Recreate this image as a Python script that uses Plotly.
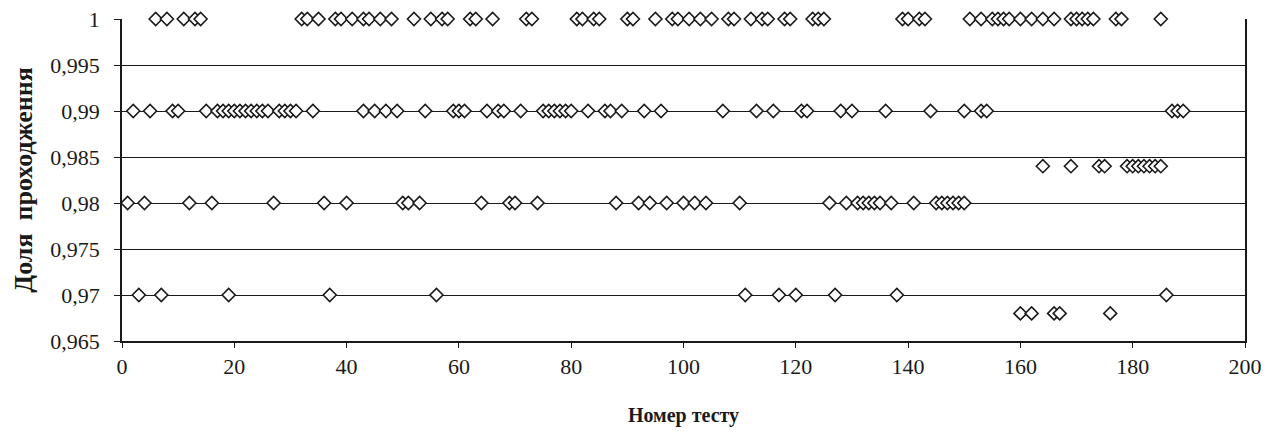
import plotly.graph_objects as go

# ---- data (test number, pass share) ----
x_100 = [6, 8, 11, 13, 14, 32, 33, 35, 38, 39, 41, 43, 44, 46, 48, 52, 55, 57, 58, 62, 63, 66,
         72, 73, 81, 82, 84, 85, 90, 91, 95, 98, 99, 101, 103, 105, 108, 109, 112, 114, 115, 118,
         119, 123, 124, 125, 139, 140, 142, 143, 151, 153, 155, 156, 157, 158, 160, 162, 164, 166,
         169, 170, 171, 172, 173, 177, 178, 185]
x_099 = [2, 5, 9, 10, 15, 17, 18, 19, 20, 21, 22, 23, 24, 25, 26, 28, 29, 30, 31, 34, 43, 45, 47,
         49, 54, 59, 60, 61, 65, 67, 68, 71, 75, 76, 77, 78, 79, 80, 83, 86, 87, 89, 93, 96, 107,
         113, 116, 121, 122, 128, 130, 136, 144, 150, 153, 154, 187, 188, 189]
x_0984 = [164, 169, 174, 175, 179, 180, 181, 182, 183, 184, 185]
x_098 = [1, 4, 12, 16, 27, 36, 40, 50, 51, 53, 64, 69, 70, 74, 88, 92, 94, 97, 100, 102, 104, 110,
         126, 129, 131, 132, 133, 134, 135, 137, 141, 145, 146, 147, 148, 149, 150]
x_097 = [3, 7, 19, 37, 56, 111, 117, 120, 127, 138, 186]
x_0968 = [160, 162, 166, 167, 176]

levels = [1.0, 0.99, 0.984, 0.98, 0.97, 0.968]
groups = [x_100, x_099, x_0984, x_098, x_097, x_0968]

y_ticks = [0.965, 0.97, 0.975, 0.98, 0.985, 0.99, 0.995, 1.0]
y_tick_labels = ["0,965", "0,97", "0,975", "0,98", "0,985", "0,99", "0,995", "1"]
x_ticks = [0, 20, 40, 60, 80, 100, 120, 140, 160, 180, 200]

# combine and sort by x so later markers overlap earlier ones
pts = sorted((xv, lv) for lv, g in zip(levels, groups) for xv in g)
xs = [p[0] for p in pts]
ys = [p[1] for p in pts]

fig = go.Figure()
fig.add_trace(go.Scatter(
    x=xs, y=ys, mode="markers", cliponaxis=False,
    marker=dict(symbol="diamond", size=10, color="white",
                line=dict(color="#1a1a1a", width=1.6)),
    showlegend=False, hoverinfo="x+y"))

font = "Times New Roman, Liberation Serif, DejaVu Serif, serif"
fig.update_layout(
    width=1272, height=428,
    margin=dict(l=114, r=35, t=11, b=95, autoexpand=False),
    paper_bgcolor="white", plot_bgcolor="white",
    font=dict(family=font, size=22, color="#1a1a1a"),
    xaxis=dict(range=[0, 200], tickvals=x_ticks, ticks="outside", ticklen=5,
               tickcolor="#1a1a1a", showgrid=False, zeroline=False, automargin=False,
               ticklabeloverflow="allow",
               showline=True, linecolor="#1a1a1a", linewidth=2, mirror=False,
               tickfont=dict(family=font, size=22),
               title=dict(text="<b>Номер тесту</b>", font=dict(family=font, size=20), standoff=30)),
    yaxis=dict(range=[0.965, 1.0], tickvals=y_ticks, ticktext=y_tick_labels,
               ticks="outside", ticklen=6, tickcolor="#1a1a1a", automargin=False,
               ticklabelstandoff=10, ticklabeloverflow="allow",
               showgrid=True, gridcolor="#1a1a1a", gridwidth=1.3, zeroline=False,
               showline=True, linecolor="#1a1a1a", linewidth=1.5, mirror=True,
               tickfont=dict(family=font, size=22),
               title=dict(text="<b>Доля  проходження</b>", font=dict(family=font, size=26), standoff=10)),
)

fig.write_html("out.html")
